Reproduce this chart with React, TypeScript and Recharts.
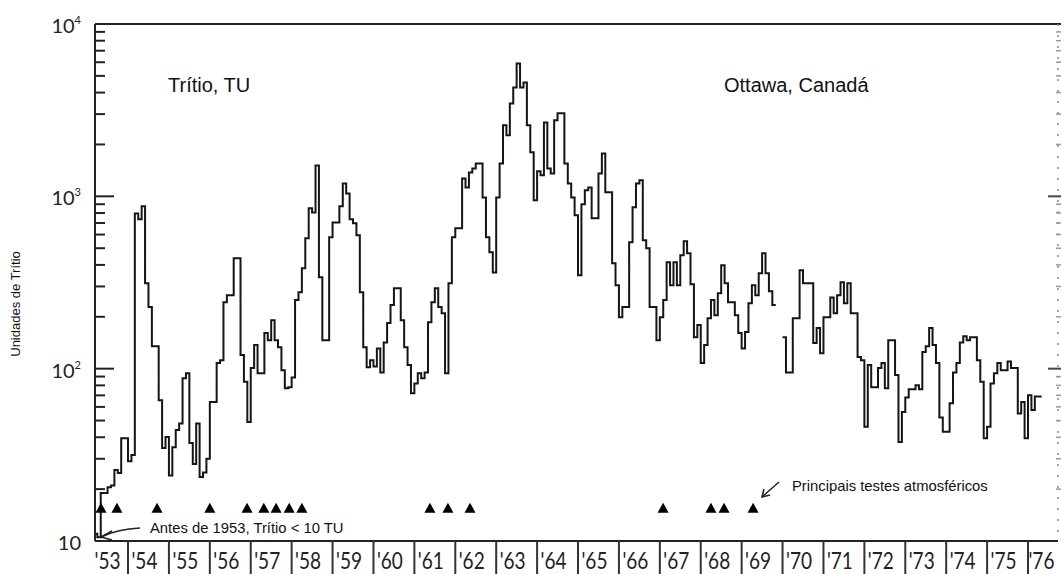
import React from 'react';
import {
  ComposedChart,
  Line,
  Scatter,
  XAxis,
  YAxis,
  ReferenceLine,
  Customized,
} from 'recharts';

// ---- data ----
const years = [
  1953, 1954, 1955, 1956, 1957, 1958, 1959, 1960, 1961, 1962, 1963, 1964,
  1965, 1966, 1967, 1968, 1969, 1970, 1971, 1972, 1973, 1974, 1975, 1976,
];
const yearLabels = [
  "'53", "'54", "'55", "'56", "'57", "'58", "'59", "'60", "'61", "'62", "'63", "'64",
  "'65", "'66", "'67", "'68", "'69", "'70", "'71", "'72", "'73", "'74", "'75", "'76",
];

// monthly tritium (TU), Ottawa
const tu1953 = [null, null, 11, 10.5, 19, 19, 20.5, 21, 25.8, 24.8, 39.5, 39.5];
const tu1954 = [29, 31.5, 796, 736, 875, 313, 228, 135, 135, 65.6, 34.6, 40.1];
const tu1955 = [24, 35, 44, 48, 88, 94, 37, 28, 48, 23.5, 25, 30];
const tu1956 = [64, 64, 108, 112, 243, 267, 267, 437, 437, 120, 84, 49];
const tu1957 = [101, 137, 94, 94, 161, 146, 191, 146, 133, 98, 77, 78];
const tu1958 = [89, 250, 278, 383, 571, 852, 807, 1512, 339, 146, 146, 579];
const tu1959 = [706, 706, 875, 1189, 1040, 736, 697, 594, 278, 133, 102, 112];
const tu1960 = [103, 131, 95, 142, 184, 234, 293, 293, 191, 133, 105, 72];
const tu1961 = [82, 94, 88, 95, 186, 243, 293, 228, 210, 94, 313, 579];
const tu1962 = [652, 652, 1271, 1127, 1377, 1452, 1553, 1553, 986, 579, 473, 362];
const tu1963 = [986, 1553, 2582, 2259, 3462, 4285, 5900, 4285, 4580, 2582, 1800, 948];
const tu1964 = [1400, 1324, 2685, 1452, 1359, 2762, 3030, 3030, 1553, 1189, 986, 776];
const tu1965 = [348, 900, 1083, 1127, 745, 745, 1359, 1775, 1055, 1055, 409, 305];
const tu1966 = [199, 228, 228, 541, 864, 1189, 1239, 556, 500, 228, 228, 146];
const tu1967 = [199, 250, 414, 305, 414, 305, 455, 548, 467, 309, 152, 179];
const tu1968 = [108, 137, 196, 250, 204, 274, 398, 313, 243, 243, 204, 161];
const tu1969 = [131, 163, 240, 305, 267, 358, 467, 358, 281, 234, 234, null];
const tu1970 = [152, 95, 95, 196, 196, 373, 313, 313, 313, 141, 172, 123];
const tu1971 = [199, 199, 259, 210, 267, 317, 240, 313, 210, 210, 117, 112];
const tu1972 = [46, 105, 78, 78, 101, 108, 77, 146, 146, 92, 37.5, 56];
const tu1973 = [68, 76, 76, 80, 76, 125, 135, 172, 137, 108, 52, 43];
const tu1974 = [43, 63, 95, 108, 142, 154, 146, 152, 152, 112, 84, 39.5];
const tu1975 = [46, 82, 94, 108, 98, 98, 110, 101, 101, 55, 64, 39.5];
const tu1976 = [70, 57.5, 69, 69, 69];

const monthlyByYear = [
  tu1953, tu1954, tu1955, tu1956, tu1957, tu1958, tu1959, tu1960, tu1961, tu1962,
  tu1963, tu1964, tu1965, tu1966, tu1967, tu1968, tu1969, tu1970, tu1971, tu1972,
  tu1973, tu1974, tu1975, tu1976,
];

// dates of major atmospheric tests (decimal years)
const testDates = [
  1953.34, 1953.73, 1954.71, 1956.0, 1956.91, 1957.32, 1957.62, 1957.94, 1958.25,
  1961.38, 1961.82, 1962.36, 1967.08, 1968.25, 1968.57, 1969.28,
];
const testMarkerLevel = 15.5;

const majorTicks = [10, 100, 1000, 10000];
const minorMultipliers = [2, 3, 4, 5, 6, 7, 8, 9];

// ---- derived tables ----
const series = [];
monthlyByYear.forEach((row, i) => {
  row.forEach((v, j) => {
    series.push({ t: years[i] + j / 12, v });
  });
});
const tests = testDates.map((t) => ({ t, v: testMarkerLevel }));
const allTicks = [];
majorTicks.forEach((m, i) => {
  allTicks.push(m);
  if (i < majorTicks.length - 1) minorMultipliers.forEach((k) => allTicks.push(m * k));
});
const yearTicks = years.map((y) => y + 0.5);

// ---- layout ----
const W = 1061;
const H = 574;
const X_DOMAIN = [1953.193, 1976.733];
const PLOT_W = 963;
const YEAR_PX = PLOT_W / (X_DOMAIN[1] - X_DOMAIN[0]);
const TICK_FONT = 'Lato, "Open Sans", sans-serif';
const TEXT_FONT = '"Liberation Sans", Arial, sans-serif';

const LeftTick = (props: any) => {
  const { x, y, payload } = props;
  const v = payload.value;
  const major = majorTicks.includes(v);
  const exp = Math.round(Math.log10(v));
  return (
    <g>
      <line x1={x} x2={x + (major ? 19 : 10)} y1={y} y2={y} stroke="#222" strokeWidth={2} />
      {major && (
        <text
          x={x - 14}
          y={y + 9}
          textAnchor="end"
          fontFamily={TICK_FONT}
          fontSize={20}
          fill="#222"
        >
          10
          {exp > 1 && (
            <tspan dy={-9} fontSize={11}>
              {exp}
            </tspan>
          )}
        </text>
      )}
    </g>
  );
};

const RightTick = (props: any) => {
  const { x, y, payload } = props;
  const v = payload.value;
  const major = majorTicks.includes(v);
  if (v === 10 || v === 10000) return <g />;
  return (
    <line
      x1={major ? x - 10 : x - 2}
      x2={x + 3}
      y1={y}
      y2={y}
      stroke={major ? '#444' : '#999'}
      strokeWidth={major ? 2 : 1.5}
    />
  );
};

const BottomTick = (props: any) => {
  const { x, y, payload } = props;
  const idx = years.indexOf(Math.floor(payload.value));
  const sep = x - YEAR_PX / 2;
  const last = idx === years.length - 1;
  return (
    <g>
      {idx > 0 && (
        <line x1={sep} x2={sep} y1={y} y2={y + 34} stroke="#333" strokeWidth={2} />
      )}
      <text
        x={idx === 0 ? x : last ? x - 7 : x - 4}
        y={y + 28}
        textAnchor="middle"
        fontFamily={TICK_FONT}
        fontSize={24}
        fill="#222"
        textLength={26}
        lengthAdjust="spacingAndGlyphs"
      >
        {yearLabels[idx]}
      </text>
    </g>
  );
};

const Triangle = (props: any) => {
  const { cx, cy } = props;
  return (
    <path
      d={`M${cx},${cy - 5.5} L${cx + 5.5},${cy + 4.5} L${cx - 5.5},${cy + 4.5} Z`}
      fill="#000"
    />
  );
};

const Annotations = () => (
  <g fontFamily={TEXT_FONT} fill="#111">
    <text x={168} y={92} fontSize={20}>
      Trítio, TU
    </text>
    <text x={724} y={92} fontSize={20}>
      Ottawa, Canadá
    </text>
    <text x={792} y={491} fontSize={14.8}>
      Principais testes atmosféricos
    </text>
    <text x={150} y={533} fontSize={14.8}>
      Antes de 1953, Trítio &lt; 10 TU
    </text>
    <text
      transform="translate(20,304) rotate(-90)"
      textAnchor="middle"
      fontSize={13}
    >
      Unidades de Trítio
    </text>
    <path d="M140,528 Q118,529 101,537" fill="none" stroke="#222" strokeWidth={1.5} />
    <path d="M112,531 L101,537 L112,540" fill="none" stroke="#222" strokeWidth={1.5} />
    <path d="M779,482 L762,497" fill="none" stroke="#222" strokeWidth={1.5} />
    <path d="M764,489 L762,497 L770,495" fill="none" stroke="#222" strokeWidth={1.5} />
    <line x1={1056} x2={1061} y1={24} y2={24} stroke="#222" strokeWidth={2} />
  </g>
);

export default function App() {
  return (
    <div style={{ position: 'absolute', left: 0, top: 0, width: W, height: H, background: '#fff' }}>
      <ComposedChart
        width={W}
        height={H}
        data={series}
        margin={{ top: 24, right: 0, bottom: 0, left: 0 }}
      >
        <XAxis
          dataKey="t"
          type="number"
          domain={X_DOMAIN}
          allowDataOverflow
          ticks={yearTicks}
          interval={0}
          height={33}
          tickSize={0}
          tickMargin={0}
          tick={<BottomTick />}
          axisLine={{ stroke: '#222', strokeWidth: 2 }}
        />
        <YAxis
          yAxisId="left"
          scale="log"
          domain={[10, 10000]}
          allowDataOverflow
          ticks={allTicks}
          interval={0}
          width={95}
          tickSize={0}
          tickMargin={0}
          tick={<LeftTick />}
          axisLine={{ stroke: '#222', strokeWidth: 2 }}
        />
        <YAxis
          yAxisId="right"
          orientation="right"
          scale="log"
          domain={[10, 10000]}
          allowDataOverflow
          ticks={allTicks}
          interval={0}
          width={3}
          tickSize={0}
          tickMargin={0}
          tick={<RightTick />}
          axisLine={{ stroke: '#888', strokeWidth: 1.5, strokeDasharray: '2 9' }}
        />
        <ReferenceLine yAxisId="left" y={10000} stroke="#222" strokeWidth={2} />
        <Line
          yAxisId="left"
          type="stepAfter"
          dataKey="v"
          stroke="#151515"
          strokeWidth={2}
          dot={false}
          activeDot={false}
          connectNulls={false}
          isAnimationActive={false}
        />
        <Scatter
          yAxisId="left"
          data={tests}
          dataKey="v"
          shape={<Triangle />}
          isAnimationActive={false}
        />
        <Customized component={<Annotations />} />
      </ComposedChart>
    </div>
  );
}
